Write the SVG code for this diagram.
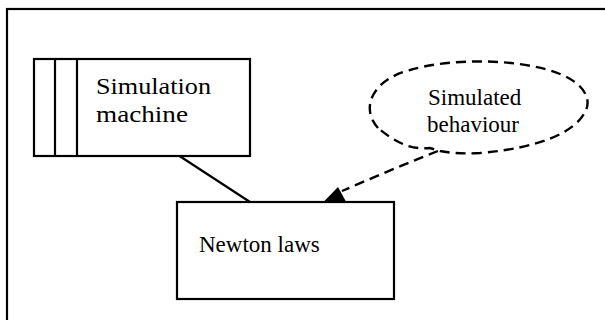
<svg xmlns="http://www.w3.org/2000/svg" width="605" height="320" viewBox="0 0 605 320">
  <defs>
    <style>
      .box { fill: #ffffff; stroke: #000000; stroke-width: 2.2; }
      .label { font-family: "Liberation Serif", "Times New Roman", serif; font-size: 23px; fill: #000000; }
      .big { font-size: 24px; }
      .link { fill: none; stroke: #000000; stroke-width: 2.2; }
      .dash { stroke-dasharray: 10 6; stroke-width: 2.4; }
    </style>
  </defs>

  <rect width="605" height="320" fill="#ffffff"/>

  <!-- outer frame -->
  <rect x="7" y="9" width="700" height="400" fill="none" stroke="#000000" stroke-width="2.2"/>

  <!-- connectors -->
  <g id="connectors">
    <line class="link" x1="178" y1="155" x2="250" y2="202"/>
    <path class="link dash" d="M438 151 Q 390 170 342 191"/>
    <path d="M322 203.5 L338 187 L347 203.5 Z" fill="#000000"/>
  </g>

  <g id="simulation-machine">
    <rect class="box" x="34" y="59" width="216" height="97"/>
    <line class="link" x1="55" y1="59" x2="55" y2="156"/>
    <line class="link" x1="77" y1="59" x2="77" y2="156"/>
    <text class="label big" x="96" y="94" textLength="115" lengthAdjust="spacingAndGlyphs">Simulation</text>
    <text class="label big" x="96" y="122" textLength="92" lengthAdjust="spacingAndGlyphs">machine</text>
  </g>

  <g id="newton-laws">
    <rect class="box" x="177" y="202" width="217" height="97"/>
    <text class="label" x="199" y="252">Newton laws</text>
  </g>

  <g id="simulated-behaviour">
    <path class="link dash" d="M378 128 C 360 108 372 80 410 70 C 450 58 520 58 560 74 C 585 84 592 100 585 112 C 575 132 540 148 480 153 C 462 154 450 153 440 151 L 430 148 C 410 150 395 142 378 128 Z"/>
    <text class="label" x="428" y="105">Simulated</text>
    <text class="label" x="427" y="132">behaviour</text>
  </g>
</svg>
